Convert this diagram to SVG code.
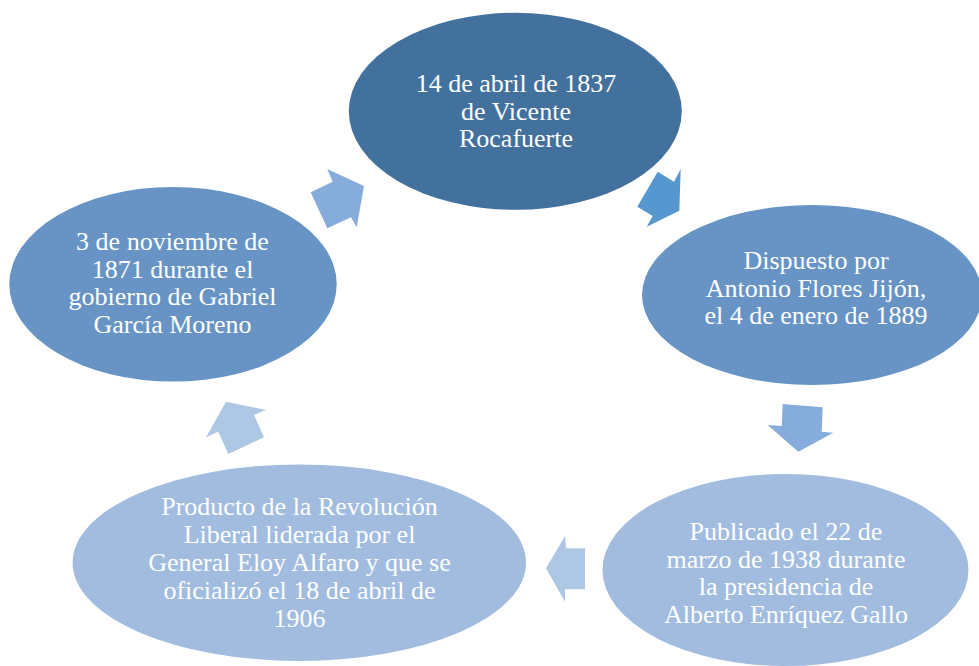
<svg xmlns="http://www.w3.org/2000/svg" width="979" height="666" viewBox="0 0 979 666">
<style>
text{font-family:"Liberation Serif","Times New Roman",serif;font-size:26px;fill:#ffffff;text-anchor:middle}
.c1{fill:#43719e}
.c2{fill:#6794c5}
.c3{fill:#a1bcdf}
.a1{fill:#5797cf}
.a2{fill:#86acdb}
.a3{fill:#adc7e5}
</style>
<rect width="979" height="666" fill="#ffffff"/>
<g id="connectors">
<polygon class="a1" points="657.7,171.7 674,181.7 680.7,169 679.3,210.7 646.7,226.7 652.7,216 637.3,206.7"/>
<polygon class="a2" points="782.7,404 822.7,407.3 821.7,431.7 833.3,432.7 798.3,451.7 767.7,425 781.7,426"/>
<polygon class="a3" points="546,568.3 565,536 566,548.3 585,548.3 585,589.3 565,589.3 565,601.7"/>
<polygon class="a3" points="226,401.7 266,410 254,415 264,437.3 228.3,454 218.3,431.7 206,437.3"/>
<polygon class="a2" points="364,186 356.7,227.3 351,217.3 327.3,228.3 310.7,192.3 332.7,181.7 327.3,169"/>
</g>
<g id="node1">
<ellipse class="c1" cx="515.3" cy="111.3" rx="166.5" ry="98.5"/>
<text x="516" y="91.7">14 de abril de 1837</text>
<text x="516" y="119.5">de Vicente</text>
<text x="516" y="147.3">Rocafuerte</text>
</g>
<g id="node2">
<ellipse class="c2" cx="812" cy="295" rx="170" ry="90"/>
<text x="816" y="269.3">Dispuesto por</text>
<text x="816" y="296.7">Antonio Flores Jijón,</text>
<text x="816" y="323.5">el 4 de enero de 1889</text>
</g>
<g id="node3">
<ellipse class="c3" cx="785.5" cy="570" rx="183" ry="96"/>
<text x="786" y="540">Publicado el 22 de</text>
<text x="786" y="567.8">marzo de 1938 durante</text>
<text x="786" y="595.3">la presidencia de</text>
<text x="786" y="622.8">Alberto Enríquez Gallo</text>
</g>
<g id="node4">
<ellipse class="c3" cx="299.3" cy="562.7" rx="226.7" ry="98.3"/>
<text x="299.5" y="515">Producto de la Revolución</text>
<text x="299.5" y="543">Liberal liderada por el</text>
<text x="299.5" y="571">General Eloy Alfaro y que se</text>
<text x="299.5" y="598.7">oficializó el 18 de abril de</text>
<text x="299.5" y="626.5">1906</text>
</g>
<g id="node5">
<ellipse class="c2" cx="173" cy="284.3" rx="163.7" ry="97.3"/>
<text x="172.5" y="250">3 de noviembre de</text>
<text x="172.5" y="277.7">1871 durante el</text>
<text x="172.5" y="305.3">gobierno de Gabriel</text>
<text x="172.5" y="333">García Moreno</text>
</g>
</svg>
